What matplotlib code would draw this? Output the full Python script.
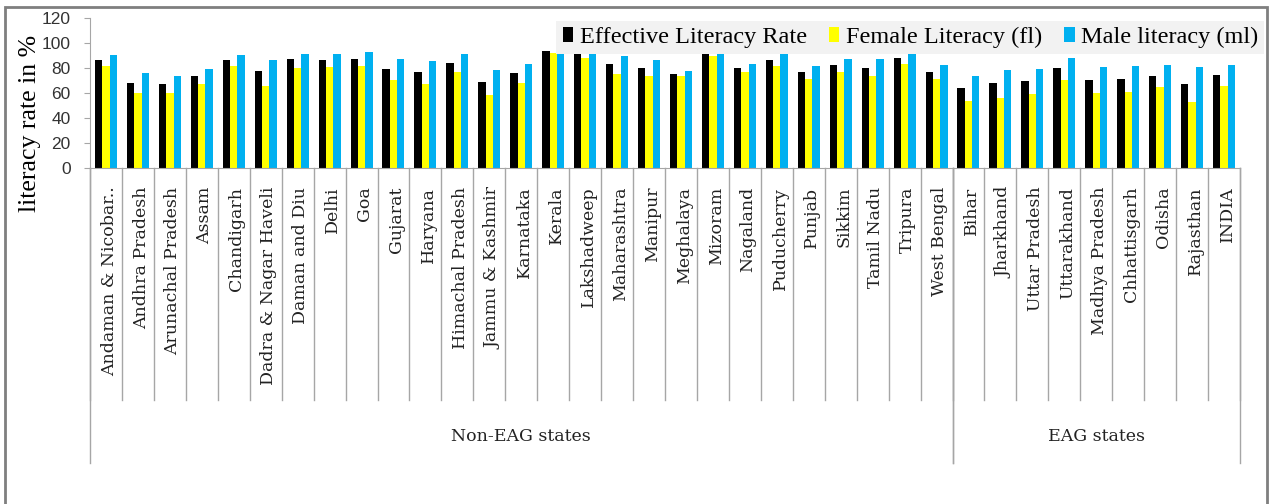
import matplotlib.pyplot as plt
from matplotlib.patches import Rectangle, Patch
import numpy as np

states = ["Andaman & Nicobar..", "Andhra Pradesh", "Arunachal Pradesh", "Assam",
          "Chandigarh", "Dadra & Nagar Haveli", "Daman and Diu", "Delhi", "Goa",
          "Gujarat", "Haryana", "Himachal Pradesh", "Jammu & Kashmir", "Karnataka",
          "Kerala", "Lakshadweep", "Maharashtra", "Manipur", "Meghalaya", "Mizoram",
          "Nagaland", "Puducherry", "Punjab", "Sikkim", "Tamil Nadu", "Tripura",
          "West Bengal", "Bihar", "Jharkhand", "Uttar Pradesh", "Uttarakhand",
          "Madhya Pradesh", "Chhattisgarh", "Odisha", "Rajasthan", "INDIA"]
effective = [86.3, 67.7, 67.0, 73.2, 86.4, 77.7, 87.1, 86.3, 87.4, 79.3, 76.6, 83.8,
             68.7, 75.6, 93.9, 92.3, 82.9, 79.9, 75.5, 91.6, 80.1, 86.6, 76.7, 82.2,
             80.3, 87.8, 77.1, 63.8, 67.6, 69.7, 79.6, 70.6, 71.0, 73.5, 67.1, 74.0]
female = [81.8, 59.7, 59.6, 67.3, 81.4, 65.9, 79.6, 80.9, 81.8, 70.7, 66.8, 76.6,
          58.0, 68.1, 92.0, 88.3, 75.5, 73.2, 73.8, 89.4, 76.7, 81.2, 71.3, 76.4,
          73.9, 83.2, 71.2, 53.3, 56.2, 59.3, 70.7, 60.0, 60.6, 64.4, 52.7, 65.5]
male = [90.1, 75.6, 73.7, 78.8, 90.5, 86.5, 91.5, 91.0, 92.8, 87.2, 85.4, 90.8,
        78.3, 82.9, 96.0, 96.1, 89.8, 86.5, 77.2, 93.7, 83.3, 92.1, 81.5, 87.3,
        86.8, 92.2, 82.7, 73.4, 78.5, 79.2, 88.3, 80.5, 81.5, 82.4, 80.5, 82.1]
groups = [("Non-EAG states", 0, 27), ("EAG states", 27, 36)]
series_names = ["Effective Literacy Rate", "Female Literacy (fl)", "Male literacy (ml)"]
colors = ["#000000", "#FFFF00", "#00B0F0"]

fig = plt.figure(figsize=(12.7, 5.04), dpi=100)
ax = fig.add_axes([90 / 1270, 1 - 168 / 504, 1150 / 1270, 150 / 504])

x = np.arange(len(states))
w = 0.23
for k, vals in enumerate([effective, female, male]):
    ax.bar(x + (k - 1) * w, vals, w, color=colors[k], zorder=2)

ax.set_xlim(-0.5, len(states) - 0.5)
ax.set_ylim(0, 120)
ax.set_yticks(range(0, 121, 20))
ax.set_xticks([])
grey = "#A6A6A6"
for s in ["top", "right"]:
    ax.spines[s].set_visible(False)
ax.spines["left"].set_color(grey)
ax.spines["bottom"].set_color(grey)
ax.tick_params(axis="y", direction="out", length=4, color=grey, pad=10)
for lab in ax.get_yticklabels():
    lab.set_fontfamily("Liberation Sans")
    lab.set_fontsize(12.5)
    lab.set_color("#333333")
ax.set_ylabel("literacy rate in %", fontfamily="Liberation Serif", fontsize=18.5)
ax.yaxis.set_label_coords(-0.043, 0.3)

tr = ax.get_xaxis_transform()
# category separators and labels
for i in range(len(states) + 1):
    ax.plot([i - 0.5, i - 0.5], [0, -1.547], color=grey, lw=1, transform=tr, clip_on=False)
for i, name in enumerate(states):
    ax.text(i + 0.1, -0.125, name, rotation=90, ha="center", va="top", transform=tr,
            fontfamily="DejaVu Serif", fontsize=12.5, color="#222222")
# group separators and labels
for name, a, b in groups:
    for e in (a, b):
        ax.plot([e - 0.5, e - 0.5], [0, -1.967], color=grey, lw=1, transform=tr, clip_on=False)
    ax.text((a + b - 1) / 2, -1.793, name, ha="center", va="center", transform=tr,
            fontfamily="DejaVu Serif", fontsize=12.5, color="#222222")

handles = [Patch(facecolor=c, edgecolor="none") for c in colors]
leg = fig.legend(handles, series_names, loc="upper right", ncol=3,
                 bbox_to_anchor=(1264 / 1270, 1 - 21 / 504), frameon=True,
                 facecolor="#F2F2F2", edgecolor="none", fancybox=False, framealpha=1,
                 handlelength=0.45, handleheight=0.55, handletextpad=0.25,
                 columnspacing=0.9, borderpad=0.25, borderaxespad=0,
                 prop={"family": "Liberation Serif", "size": 17.5})

fig.add_artist(Rectangle((5 / 1270, -0.05), 1262 / 1270, 1.05 - 7 / 504,
                         transform=fig.transFigure, fill=False, edgecolor="#7F7F7F", lw=2))

fig.savefig("out.png", dpi=100)
